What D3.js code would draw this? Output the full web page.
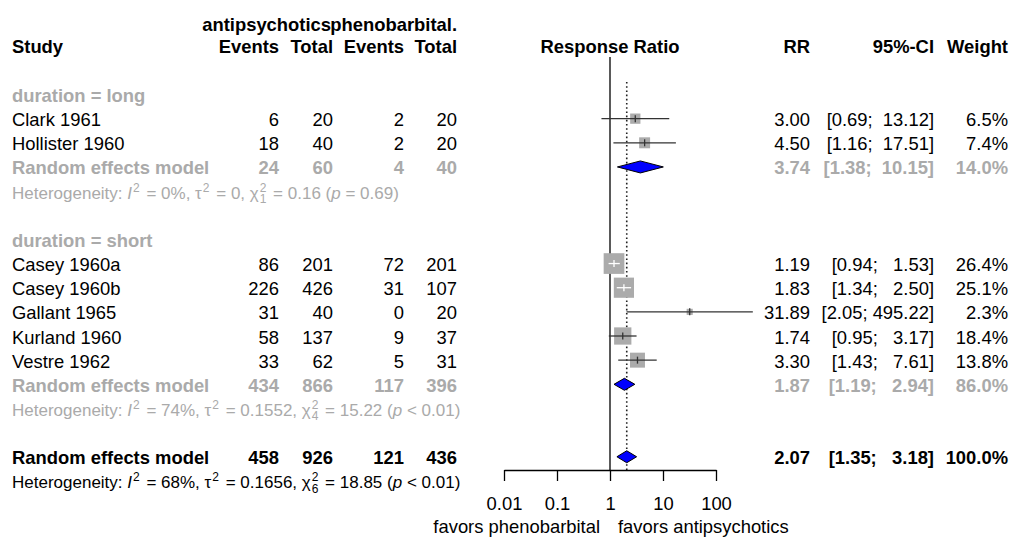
<!DOCTYPE html>
<html>
<head>
<meta charset="utf-8">
<script src="https://cdn.jsdelivr.net/npm/d3@7/dist/d3.min.js"></script>
<style>
body { margin: 0; background: #fff; }
svg text { font-family: "Liberation Sans", Arial, sans-serif; font-size: 18.4px; white-space: pre; }
</style>
</head>
<body>
<svg id="forest" width="1013" height="538"></svg>
<script>
// dades dels estudis
const studies = ["Clark 1961", "Hollister 1960", "Casey 1960a", "Casey 1960b", "Gallant 1965", "Kurland 1960", "Vestre 1962"];
const duration = ["long", "long", "short", "short", "short", "short", "short"];
const eventsA = [6, 18, 86, 226, 31, 58, 33];
const totalA = [20, 40, 201, 426, 40, 137, 62];
const eventsP = [2, 2, 72, 31, 0, 9, 5];
const totalP = [20, 20, 201, 107, 20, 37, 31];
const rr = [3.00, 4.50, 1.19, 1.83, 31.89, 1.74, 3.30];
const lower = [0.69, 1.16, 0.94, 1.34, 2.05, 0.95, 1.43];
const upper = [13.12, 17.51, 1.53, 2.50, 495.22, 3.17, 7.61];
const weight = [6.5, 7.4, 26.4, 25.1, 2.3, 18.4, 13.8];

// models per subgrup i total
const groups = ["long", "short"];
const groupEvents = [[24, 60, 4, 40], [434, 866, 117, 396]];
const groupRR = [3.74, 1.87];
const groupLower = [1.38, 1.19];
const groupUpper = [10.15, 2.94];
const groupWeight = [14.0, 86.0];
const groupHet = [
  { i2: "0%", tau2: "0", df: "1", q: "0.16", p: "= 0.69" },
  { i2: "74%", tau2: "0.1552", df: "4", q: "15.22", p: "< 0.01" }
];
const overallEvents = [458, 926, 121, 436];
const overallRR = 2.07, overallLower = 1.35, overallUpper = 3.18, overallWeight = 100.0;
const overallHet = { i2: "68%", tau2: "0.1656", df: "6", q: "18.85", p: "< 0.01" };

const ticks = [0.01, 0.1, 1, 10, 100];

const gray = "#aaaaaa";
const svg = d3.select("#forest");

// files: línia base del text
const rowY = d3.scaleLinear().domain([0, 1]).range([102, 126.15]);
const markY = r => rowY(r) - 7.5;

const x = d3.scaleLog().domain([0.01, 100]).range([504, 716]);
const boxSize = d3.scaleSqrt().domain([0, 26.4]).range([0, 20.7]);

const col = { study: 12, e1: 279, t1: 333, e2: 404, t2: 457, rr: 810, ci: 934, w: 1008 };

// format interval com a R (amplada fixa amb espais)
const fmtCI = (lo, hi) => "[" + lo.toFixed(2) + "; " + hi.toFixed(2).padStart(6, " ") + "]";

function textAt(xp, y, txt, opts = {}) {
  return svg.append("text")
    .attr("x", xp).attr("y", y)
    .attr("text-anchor", opts.anchor || "end")
    .attr("font-weight", opts.bold ? "bold" : null)
    .attr("fill", opts.color || "#000")
    .text(txt);
}

// capçalera
const h1 = 30.5, h2 = 52.5;
textAt(331, h1, "antipsychotics", { bold: true });
textAt(col.t2, h1, "phenobarbital.", { bold: true });
textAt(col.study, h2, "Study", { bold: true, anchor: "start" });
textAt(col.e1, h2, "Events", { bold: true });
textAt(col.t1, h2, "Total", { bold: true });
textAt(col.e2, h2, "Events", { bold: true });
textAt(col.t2, h2, "Total", { bold: true });
textAt(x(1), h2, "Response Ratio", { bold: true, anchor: "middle" });
textAt(col.rr, h2, "RR", { bold: true });
textAt(col.ci, h2, "95%-CI", { bold: true });
textAt(col.w, h2, "Weight", { bold: true });

function hetLine(r, h, color) {
  const t = svg.append("text")
    .attr("x", col.study).attr("y", rowY(r))
    .attr("fill", color)
    .style("font-size", "17px");
  const sup = "12px";
  t.append("tspan").text("Heterogeneity: ");
  t.append("tspan").attr("font-style", "italic").text("I");
  t.append("tspan").attr("dx", 1).attr("dy", -7).style("font-size", sup).text("2");
  t.append("tspan").attr("dx", 2).attr("dy", 7).text(" = " + h.i2 + ", τ");
  t.append("tspan").attr("dx", 1).attr("dy", -7).style("font-size", sup).text("2");
  t.append("tspan").attr("dx", 2).attr("dy", 7).text(" = " + h.tau2 + ", χ");
  t.append("tspan").attr("dx", 1).attr("dy", -7).style("font-size", sup).text("2");
  t.append("tspan").attr("dx", -6.7).attr("dy", 11.5).style("font-size", sup).text(h.df);
  t.append("tspan").attr("dx", 2).attr("dy", -4.5).text(" = " + h.q + " (");
  t.append("tspan").attr("font-style", "italic").text("p");
  t.append("tspan").text(" " + h.p + ")");
}

function diamond(r, est, lo, hi) {
  const yc = markY(r);
  svg.append("polygon")
    .attr("points", [[x(lo), yc], [x(est), yc - 6], [x(hi), yc], [x(est), yc + 6]].join(" "))
    .attr("fill", "#0000ff")
    .attr("stroke", "#000")
    .attr("stroke-width", 1);
}

function modelRow(r, ev, est, lo, hi, w, color) {
  const o = { bold: true, color: color };
  const y = rowY(r);
  textAt(col.study, y, "Random effects model", { ...o, anchor: "start" });
  [col.e1, col.t1, col.e2, col.t2].forEach((c, k) => textAt(c, y, String(ev[k]), o));
  textAt(col.rr, y, est.toFixed(2), o);
  textAt(col.ci, y, fmtCI(lo, hi), o);
  textAt(col.w, y, w.toFixed(1) + "%", o);
  diamond(r, est, lo, hi);
}

// línies de referència
const axisY = 470;
svg.append("line")
  .attr("x1", x(1)).attr("x2", x(1))
  .attr("y1", 57).attr("y2", axisY)
  .attr("stroke", "#000").attr("stroke-width", 1.3);
svg.append("line")
  .attr("x1", x(overallRR)).attr("x2", x(overallRR))
  .attr("y1", 82).attr("y2", axisY)
  .attr("stroke", "#222").attr("stroke-width", 1.6)
  .attr("stroke-dasharray", "1.6,2.6");

// estudis i subgrups
let r = 0;
groups.forEach((g, gi) => {
  textAt(col.study, rowY(r), "duration = " + g, { bold: true, anchor: "start", color: gray });
  r++;
  studies.forEach((s, i) => {
    if (duration[i] !== g) return;
    const y = rowY(r);
    textAt(col.study, y, s, { anchor: "start" });
    textAt(col.e1, y, String(eventsA[i]));
    textAt(col.t1, y, String(totalA[i]));
    textAt(col.e2, y, String(eventsP[i]));
    textAt(col.t2, y, String(totalP[i]));
    textAt(col.rr, y, rr[i].toFixed(2));
    textAt(col.ci, y, fmtCI(lower[i], upper[i]));
    textAt(col.w, y, weight[i].toFixed(1) + "%");

    const yc = markY(r);
    const half = boxSize(weight[i]) / 2;
    const cx = x(rr[i]);
    svg.append("rect")
      .attr("x", cx - half).attr("y", yc - half)
      .attr("width", half * 2).attr("height", half * 2)
      .attr("fill", "#ababab");
    const inside = x(lower[i]) >= cx - half && x(upper[i]) <= cx + half;
    const lc = inside ? "#fff" : "#333";
    svg.append("line")
      .attr("x1", x(lower[i])).attr("x2", x(upper[i]))
      .attr("y1", yc).attr("y2", yc)
      .attr("stroke", lc).attr("stroke-width", 1.3);
    svg.append("line")
      .attr("x1", cx).attr("x2", cx)
      .attr("y1", yc - 3.5).attr("y2", yc + 3.5)
      .attr("stroke", lc).attr("stroke-width", 1.3);
    r++;
  });
  modelRow(r, groupEvents[gi], groupRR[gi], groupLower[gi], groupUpper[gi], groupWeight[gi], gray);
  r++;
  hetLine(r, groupHet[gi], gray);
  r += 2;
});

modelRow(r, overallEvents, overallRR, overallLower, overallUpper, overallWeight, "#000");
r++;
hetLine(r, overallHet, "#000");

// eix
const axis = d3.axisBottom(x)
  .tickValues(ticks)
  .tickFormat(d => String(d))
  .tickSize(11)
  .tickSizeOuter(0)
  .tickPadding(15.5);
const ax = svg.append("g")
  .attr("transform", `translate(0,${axisY})`)
  .call(axis);
ax.select(".domain").attr("stroke", "#000").attr("stroke-width", 1.3);
ax.selectAll(".tick line").attr("stroke", "#000").attr("stroke-width", 1.3);
ax.selectAll(".tick text")
  .attr("fill", "#000")
  .style("font-size", "18.4px")
  .style("font-family", '"Liberation Sans", Arial, sans-serif');

svg.append("text").attr("x", x(1) - 10).attr("y", 532.5)
  .attr("text-anchor", "end").text("favors phenobarbital");
svg.append("text").attr("x", x(1) + 8).attr("y", 532.5)
  .attr("text-anchor", "start").text("favors antipsychotics");
</script>
</body>
</html>
